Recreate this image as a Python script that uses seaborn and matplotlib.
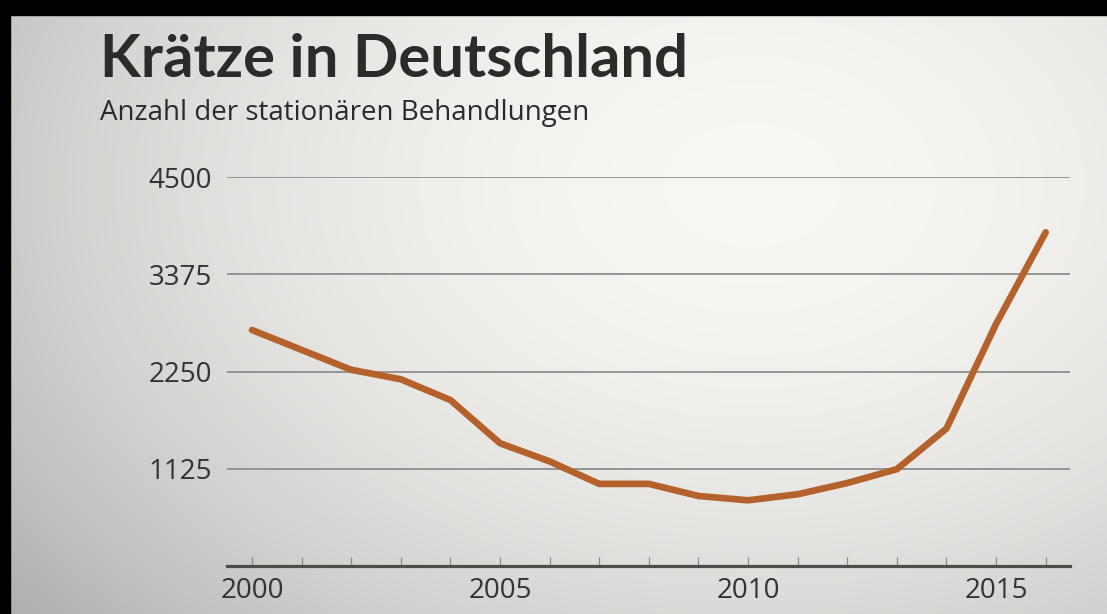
import numpy as np
import pandas as pd
import matplotlib
matplotlib.use("Agg")
import matplotlib.pyplot as plt
from matplotlib.patches import Rectangle
import seaborn as sns

# Data
years = [2000, 2001, 2002, 2003, 2004, 2005, 2006, 2007, 2008,
         2009, 2010, 2011, 2012, 2013, 2014, 2015, 2016]
treatments = [2730, 2500, 2270, 2160, 1920, 1420, 1210, 950, 950,
              810, 760, 830, 960, 1120, 1590, 2800, 3860]
y_ticks = [1125, 2250, 3375, 4500]
x_ticks = [2000, 2005, 2010, 2015]

title = "Krätze in Deutschland"
subtitle = "Anzahl der stationären Behandlungen"

df = pd.DataFrame({"Jahr": years, "Behandlungen": treatments})

sns.set_style("white")
plt.rcParams["font.family"] = ["Open Sans", "DejaVu Sans"]

W, H = 1107, 614
fig = plt.figure(figsize=(W / 100, H / 100), dpi=100)

# Background: soft grey gradient, light towards the upper right
bg = fig.add_axes([0, 0, 1, 1], zorder=0)
u, w = np.meshgrid(np.linspace(0, 1, 400), np.linspace(0, 1, 220))
d2 = ((u - 0.68) / 0.75) ** 2 + ((w - 0.3) / 0.95) ** 2
light = np.clip(0.97 - 0.21 * d2, 0, 1)
img = np.dstack([light, light * 0.997, light * 0.985])
bg.imshow(img, extent=[0, 1, 0, 1], origin="upper", aspect="auto",
          interpolation="bilinear")
bg.set_xlim(0, 1)
bg.set_ylim(0, 1)
bg.axis("off")

# black frame edges from the screenshot
fig.patches.append(Rectangle((0, 1 - 15 / H), 1, 15 / H, transform=fig.transFigure,
                             color="black", zorder=5))
fig.patches.append(Rectangle((0, 0), 10 / W, 1, transform=fig.transFigure,
                             color="black", zorder=5))

ax = fig.add_axes([227 / W, 1 - 566 / H, (1070 - 227) / W, (566 - 177) / H], zorder=2)
ax.patch.set_alpha(0)

sns.lineplot(data=df, x="Jahr", y="Behandlungen", ax=ax, color="#b4612c",
             linewidth=4.8, solid_capstyle="round", solid_joinstyle="round", zorder=3)

ax.set_xlim(1999.496, 2016.49)
ax.set_ylim(0, 4500)
ax.set_yticks(y_ticks)
ax.set_yticklabels([str(t) for t in y_ticks])
ax.set_xticks(x_ticks)
ax.set_xticks(years, minor=True)
ax.set_xlabel("")
ax.set_ylabel("")

for t in y_ticks:
    ax.axhline(t, color="#8e8e8c", linewidth=1.3, zorder=1)

for side in ["top", "right", "left"]:
    ax.spines[side].set_visible(False)
ax.spines["bottom"].set_color("#4d4d4d")
ax.spines["bottom"].set_linewidth(2.3)

ax.tick_params(axis="y", left=False, length=0, pad=11, labelsize=20, labelcolor="#333333")
ax.tick_params(axis="x", which="both", bottom=True, direction="in", length=6.5, width=0.9,
               color="#8a8a8a", pad=8, labelsize=20, labelcolor="#333333")

fig.text(100 / W, 1 - 77 / H, title, fontsize=43, fontweight="bold",
         family=["Lato", "DejaVu Sans"], color="#2b2b2b",
         ha="left", va="baseline", zorder=4)
fig.text(100 / W, 1 - 120 / H, subtitle, fontsize=20, color="#2b2b2b",
         ha="left", va="baseline", zorder=4)

fig.savefig("out.png", dpi=100)
